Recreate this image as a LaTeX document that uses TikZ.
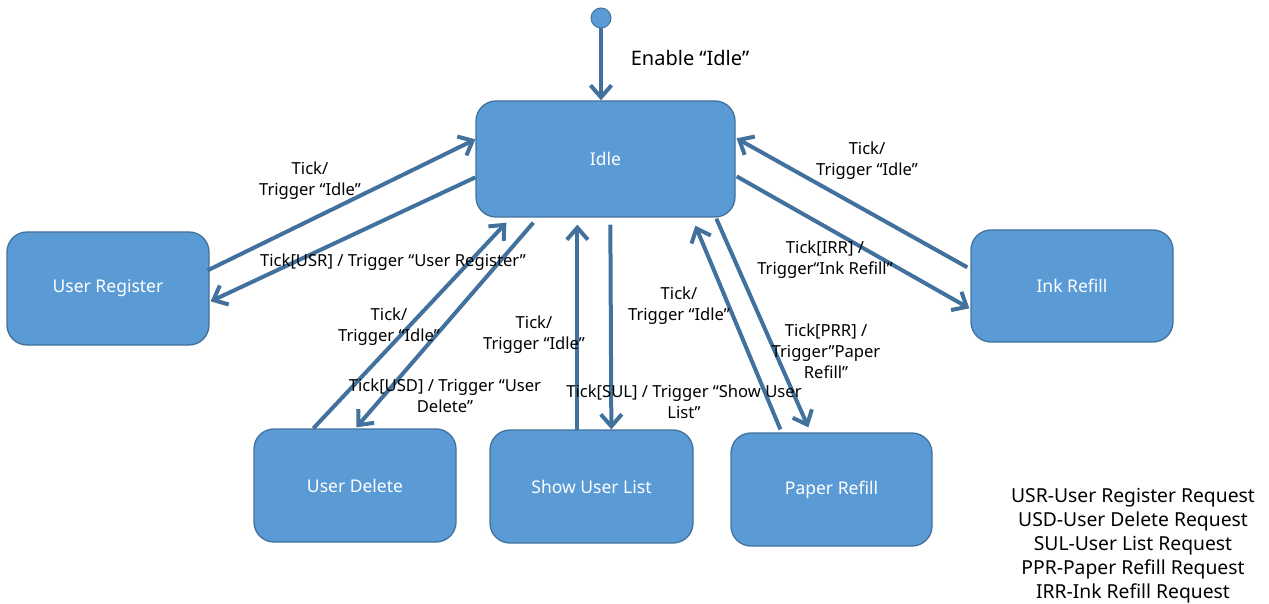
\documentclass[tikz,border=0pt]{standalone}
\usepackage{fontspec}
\setmainfont{Noto Sans}
\usetikzlibrary{arrows.meta,calc}
\definecolor{boxfill}{HTML}{5B9BD5}
\definecolor{boxline}{HTML}{41719C}
\definecolor{arrcol}{RGB}{65,113,156}
\tikzset{
  state/.style={draw=boxline, line width=1.3pt, fill=boxfill, rounded corners=20pt,
    text=white, font=\fontsize{17.5}{20}\selectfont, inner sep=0pt},
  arr/.style={draw=arrcol, line width=4pt, -{Straight Barb[length=12pt,width=21pt]}},
  lbl/.style={align=center, font=\fontsize{16.6}{21}\selectfont, inner sep=0pt},
}
\begin{document}
\begin{tikzpicture}[x=1pt,y=-1pt]
\useasboundingbox (0,0) rectangle (1269,604);
\node[circle, draw=boxline, line width=1pt, fill=boxfill, minimum size=20pt, inner sep=0pt] (init) at (601,18) {};
\node[state, minimum width=259pt, minimum height=116pt] (idle) at (605.5,159) {Idle};
\node[state, minimum width=202pt, minimum height=113pt] (ur) at (108,288.5) {User Register};
\node[state, minimum width=202pt, minimum height=112pt] (ir) at (1072,286) {Ink Refill};
\node[state, minimum width=202pt, minimum height=113pt] (ud) at (355,485.5) {User Delete};
\node[state, minimum width=203pt, minimum height=113pt] (sul) at (591.5,486.5) {Show User List};
\node[state, minimum width=201pt, minimum height=113pt] (pr) at (831.5,489.5) {Paper Refill};

\draw[arr] (init) -- (init |- idle.north);
% User Register
\draw[arr] ($(ur.north east)+(-2,39)$) -- ($(idle.north west)+(0,39)$);
\draw[arr] ($(idle.north west)+(0,77)$) -- ($(ur.north east)+(1,70)$);
% User Delete
\draw[arr] ($(ud.north west)+(60,0)$) -- ($(idle.south west)+(31,5)$);
\draw[arr] ($(idle.south west)+(58,5)$) -- ($(ud.north west)+(103,-1)$);
% Show User List
\draw[arr] ($(sul.north west)+(88,1)$) -- ($(idle.south west)+(102,7)$);
\draw[arr] ($(idle.south west)+(135,7)$) -- ($(sul.north west)+(122,0)$);
% Paper Refill
\draw[arr] ($(pr.north west)+(50,-3)$) -- ($(idle.south west)+(220,8)$);
\draw[arr] ($(idle.south west)+(241,1)$) -- ($(pr.north west)+(78,-5)$);
% Ink Refill
\draw[arr] ($(ir.north west)+(-3,38)$) -- ($(idle.north east)+(1,38)$);
\draw[arr] ($(idle.north east)+(1,76)$) -- ($(ir.north west)+(-1,79)$);

\node[lbl, font=\fontsize{20}{24}\selectfont] (enable) at (690,58) {Enable “Idle”};
\node[lbl] (l1) at (310,181) {Tick/\\Trigger “Idle”};
\node[lbl] (l2) at (393,262.5) {Tick[USR] / Trigger “User Register”};
\node[lbl] (l3) at (389,326.5) {Tick/\\Trigger “Idle”};
\node[lbl] (l4) at (445,396) {Tick[USD] / Trigger “User\\Delete”};
\node[lbl] (l5) at (534,334.5) {Tick/\\Trigger “Idle”};
\node[lbl] (l6) at (684,402) {Tick[SUL] / Trigger “Show User\\List”};
\node[lbl] (l7) at (679,305.5) {Tick/\\Trigger “Idle”};
\node[lbl] (l8) at (826,351) {Tick[PRR] /\\Trigger"Paper\\Refill"};
\node[lbl] (l9) at (825,260) {Tick[IRR] /\\Trigger“Ink Refill”};
\node[lbl] (l10) at (867,160.5) {Tick/\\Trigger “Idle”};
\node[lbl, font=\fontsize{19.3}{24}\selectfont] (legend) at (1133,546) {USR-User Register Request\\USD-User Delete Request\\SUL-User List Request\\PPR-Paper Refill Request\\IRR-Ink Refill Request};
\end{tikzpicture}
\end{document}
